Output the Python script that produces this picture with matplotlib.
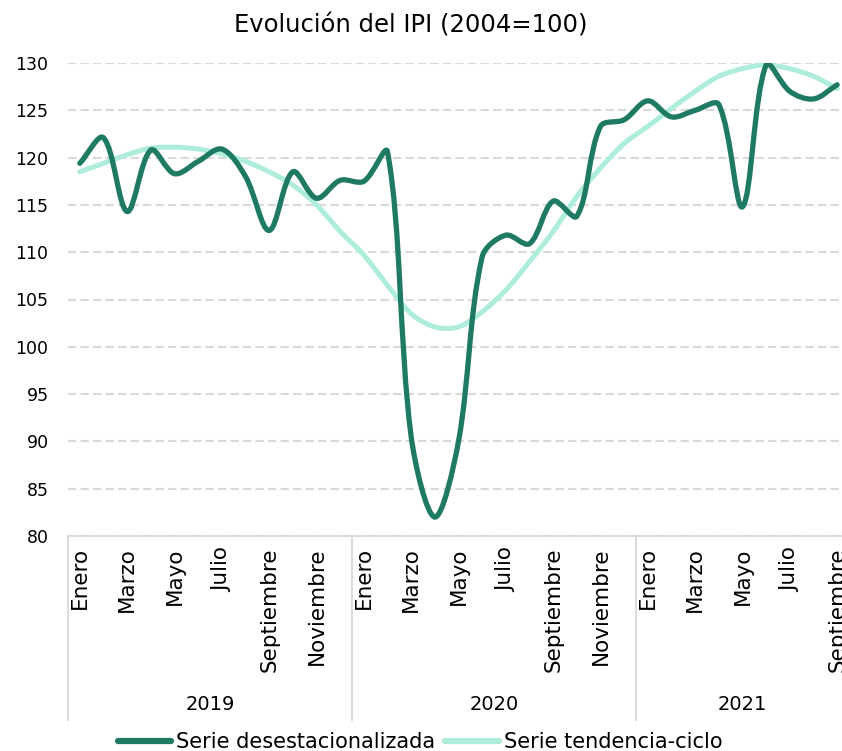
import matplotlib
matplotlib.use('agg')
import matplotlib.pyplot as plt
import matplotlib.transforms as mtransforms
from matplotlib.path import Path
from matplotlib.patches import PathPatch
from matplotlib.lines import Line2D
import numpy as np

plt.rcParams['font.family'] = ['DejaVu Sans']

meses = ['Enero', 'Febrero', 'Marzo', 'Abril', 'Mayo', 'Junio', 'Julio',
         'Agosto', 'Septiembre', 'Octubre', 'Noviembre', 'Diciembre']
anios = ['2019', '2020', '2021']
meses_por_anio = [12, 12, 9]
categorias = meses * 2 + meses[:9]

desestacionalizada = [119.4, 122.1, 114.3, 120.8, 118.3, 119.6, 120.9, 118.0, 112.3, 118.5, 115.7, 117.6,
                      117.5, 120.6, 90.5, 82.0, 90.0, 109.5, 111.8, 110.9, 115.4, 113.8, 123.3, 124.0,
                      126.0, 124.3, 125.0, 125.6, 114.8, 129.8, 127.0, 126.2, 127.7]
tendencia = [118.5, 119.4, 120.3, 121.0, 121.1, 120.9, 120.4, 119.6, 118.5, 117.1, 115.0, 112.2,
             109.7, 106.5, 103.5, 102.1, 102.1, 103.7, 106.0, 109.0, 112.2, 115.9, 118.9, 121.5,
             123.3, 125.2, 127.0, 128.6, 129.4, 129.8, 129.4, 128.6, 127.3]

OSCURO = '#1f7a63'
CLARO = '#aeeddb'
GRIS = '#d9d9d9'

# pixeles por unidad (para que el suavizado se calcule en pantalla)
ESC_X = 781 / 33
ESC_Y = 473 / 50


def curva_suave(x, y):
    # bezier parecido al suavizado de excel: asas proporcionales al largo de cada tramo
    p = np.column_stack([np.asarray(x) * ESC_X, np.asarray(y) * ESC_Y]).astype(float)
    n = len(p)
    izq = [None] * n
    der = [None] * n
    for i in range(n):
        p0 = p[i - 1] if i > 0 else p[i]
        p2 = p[i + 1] if i + 1 < n else p[i]
        d01 = np.hypot(*(p[i] - p0))
        d12 = np.hypot(*(p2 - p[i]))
        t = (p2 - p0) / (d01 + d12)
        izq[i] = p[i] - t * d01 / 3
        der[i] = p[i] + t * d12 / 3
    verts = [p[0]]
    codes = [Path.MOVETO]
    for i in range(n - 1):
        verts += [der[i], izq[i + 1], p[i + 1]]
        codes += [Path.CURVE4] * 3
    verts = np.array(verts) / [ESC_X, ESC_Y]
    return Path(verts, codes)


fig = plt.figure(figsize=(8.42, 7.51), dpi=100)
ax = fig.add_axes([68 / 842, 1 - 536 / 751, 781 / 842, 473 / 751])

x = np.arange(len(categorias))
for serie, color, ancho in [(tendencia, CLARO, 3.6), (desestacionalizada, OSCURO, 3.8)]:
    ax.add_patch(PathPatch(curva_suave(x, serie), facecolor='none', edgecolor=color,
                           lw=ancho, capstyle='round', joinstyle='round', zorder=3))

ax.set_xlim(-0.5, len(categorias) - 0.5)
ax.set_ylim(80, 130)
ax.set_yticks(np.arange(80, 131, 5))
ax.tick_params(axis='y', length=0, labelsize=12.5, pad=14, colors='#000000')
ax.grid(axis='y', color=GRIS, ls=(0, (4, 2)), lw=1.5)
ax.set_axisbelow(True)
for s in ['top', 'right', 'left']:
    ax.spines[s].set_visible(False)
ax.spines['bottom'].set_color(GRIS)
ax.spines['bottom'].set_linewidth(1.3)

ticks = [i for i in x if i % 12 % 2 == 0]
ax.set_xticks(ticks)
ax.set_xticklabels([categorias[i] for i in ticks], rotation=90, va='top', ha='center', fontsize=15.5)
ax.tick_params(axis='x', length=0, pad=8)

trans = mtransforms.blended_transform_factory(ax.transData, ax.transAxes)
inicio = -0.5
for anio, n in zip(anios, meses_por_anio):
    ax.plot([inicio, inicio], [0, -0.39], transform=trans, color=GRIS, lw=1.3, clip_on=False)
    ax.text(inicio + n / 2, -0.357, anio, transform=trans, ha='center', va='center', fontsize=14)
    inicio += n
ax.plot([inicio, inicio], [0, -0.39], transform=trans, color=GRIS, lw=1.3, clip_on=False)

fig.text(411 / 842, 1 - 25 / 751, 'Evolución del IPI (2004=100)', ha='center', va='center', fontsize=17.5)

handles = [Line2D([], [], color=OSCURO, lw=4.5, solid_capstyle='round'),
           Line2D([], [], color=CLARO, lw=4.5, solid_capstyle='round')]
fig.legend(handles, ['Serie desestacionalizada', 'Serie tendencia-ciclo'], loc='center',
           bbox_to_anchor=(420 / 842, 1 - 742 / 751), ncol=2, frameon=False, fontsize=15,
           handlelength=2.55, handletextpad=0.25, columnspacing=0.5, borderpad=0)

fig.savefig('out.png', dpi=100)
